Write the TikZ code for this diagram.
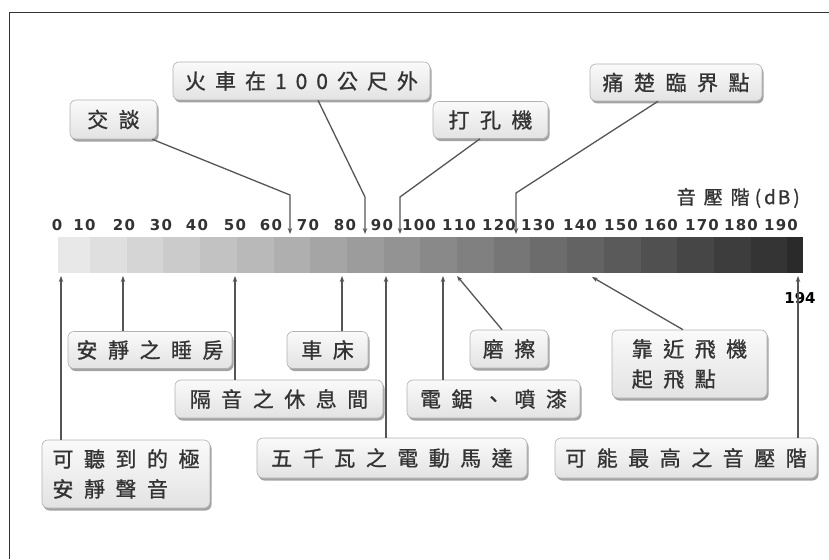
\documentclass[tikz,border=0pt]{standalone}
\usepackage{fontspec}
\newfontfamily\cjk[FakeBold=0.9]{Noto Sans CJK TC}
\newfontfamily\deja{DejaVu Sans}
\usetikzlibrary{arrows.meta,shadows}
\def\spk{10.5pt}
\def\spc#1{\spcA#1\relax}
\def\spcA#1{\ifx#1\relax\else#1\expandafter\spcB\fi}
\def\spcB#1{\ifx#1\relax\else\kern\spk#1\expandafter\spcB\fi}
\definecolor{lnc}{HTML}{555555}
\definecolor{txc}{HTML}{333333}
\tikzset{
  lbl/.style={draw=black!30, line width=0.6pt, rounded corners=6pt,
    top color=black!2, bottom color=black!11, inner sep=0pt,
    font=\cjk\fontsize{21}{30}\selectfont, text=txc,
    drop shadow={shadow xshift=1.5pt, shadow yshift=-2.5pt, fill=black!60, opacity=0.6}},
  tick/.style={inner sep=0pt, text=txc, font=\deja\bfseries\fontsize{15}{15}\selectfont\def\spk{1.2pt}},
  conn/.style={draw=lnc, line width=1.3pt},
  arr/.style={conn, -{Stealth[length=6pt,width=4.5pt]}},
  frame/.style={draw=black!80, line width=1.6pt}
}
\begin{document}
\begin{tikzpicture}[x=1pt,y=-1pt]
\useasboundingbox (0,0) rectangle (829,559);
% frame
\draw[frame] (9.5,559) -- (9.5,12.5) -- (829,12.5);
% bar
\foreach \i in {0,...,20}{
  \pgfmathsetmacro\xa{\i==0 ? 58 : 90+36.7*(\i-1)}
  \pgfmathsetmacro\xb{\i==20 ? 803 : 90+36.7*\i}
  \pgfmathsetmacro\gv{(232-9.5*\i)/255}
  \definecolor{segc}{gray}{\gv}
  \fill[segc] (\xa,237) rectangle (\xb,273);
}
% tick labels
\foreach \t/\p in {0/57,10/84.5,20/124,30/161,40/197,50/235,60/271,70/308,80/345,90/382,100/419,110/459,120/499,130/538,140/580,150/621,160/661,170/702,180/741,190/781}{
  \node[tick] (t\t) at (\p,225.5) {\expandafter\spc\expandafter{\t}};
}
\node[inner sep=0pt, text=black, font=\deja\bfseries\fontsize{15}{15}\selectfont] (t194) at (800,298) {194};
\node[inner sep=0pt, text=txc, font=\cjk\fontsize{19}{19}\selectfont, anchor=east] (unit) at (800,198) {\def\spk{8pt}\spc{音壓階}\kern5pt(\kern3pt d\kern2pt B\kern3pt)};
% boxes above
\node[lbl, minimum width=87pt, minimum height=39pt] (b1) at (113.5,119.5) {\spc{交談}};
\node[lbl, minimum width=257pt, minimum height=38pt] (b2) at (301.5,81) {\def\spk{9pt}\spc{火車在100公尺外}};
\node[lbl, minimum width=115pt, minimum height=37pt] (b3) at (490.5,120) {\spc{打孔機}};
\node[lbl, minimum width=172pt, minimum height=37pt] (b4) at (676,82.5) {\spc{痛楚臨界點}};
% boxes below
\node[lbl, minimum width=164pt, minimum height=37pt] (b5) at (150,350) {\spc{安靜之睡房}};
\node[lbl, minimum width=81pt, minimum height=37pt] (b6) at (327.5,350) {\spc{車床}};
\node[lbl, minimum width=208pt, minimum height=38pt] (b7) at (279,399) {\spc{隔音之休息間}};
\node[lbl, minimum width=168pt, minimum height=68pt, align=left] (b8) at (126,474) {\spc{可聽到的極}\\\spc{安靜聲音}};
\node[lbl, minimum width=270pt, minimum height=40pt] (b9) at (392,458) {\spc{五千瓦之電動馬達}};
\node[lbl, minimum width=173pt, minimum height=38pt] (b10) at (493.5,399) {\spc{電鋸、噴漆}};
\node[lbl, minimum width=78pt, minimum height=38pt] (b11) at (509,349) {\spc{磨擦}};
\node[lbl, minimum width=155pt, minimum height=68pt, align=left] (b12) at (689.5,364) {\spc{靠近飛機}\\\spc{起飛點}};
\node[lbl, minimum width=262pt, minimum height=40pt] (b13) at (686,458) {\spc{可能最高之音壓階}};
% coordinates on bar
\coordinate (k1) at (290,195); \coordinate (a1) at (290,234);
\coordinate (k2) at (365,197); \coordinate (a2) at (365,234);
\coordinate (k3) at (400,197); \coordinate (a3) at (400,234);
\coordinate (k4) at (516,193); \coordinate (a4) at (516,234);
\coordinate (a5) at (123,276);
\coordinate (a6) at (342,276);
\coordinate (a7) at (235,276);
\coordinate (a8) at (61,276);
\coordinate (a9) at (386,276);
\coordinate (a10) at (443,276);
\coordinate (a11) at (457,276);
\coordinate (a12) at (592,277);
\coordinate (a13) at (798,276);
% connectors above
\draw[arr] ([xshift=-5pt]b1.south east) -- (k1) -- (a1);
\draw[arr] ([xshift=16.5pt]b2.south) -- (k2) -- (a2);
\draw[arr] ([xshift=-10.5pt]b3.south) -- (k3) -- (a3);
\draw[arr] ([xshift=-18pt]b4.south) -- (k4) -- (a4);
% connectors below
\draw[arr] (b5.north -| a5) -- (a5);
\draw[arr] (b6.north -| a6) -- (a6);
\draw[arr] (b7.north -| a7) -- (a7);
\draw[arr] (b8.north -| a8) -- (a8);
\draw[arr] (b9.north -| a9) -- (a9);
\draw[arr] (b10.north -| a10) -- (a10);
\draw[arr] ([xshift=-7pt]b11.north) -- (a11);
\draw[arr] ([xshift=-6.5pt]b12.north) -- (a12);
\draw[arr] (b13.north -| a13) -- (a13);
\end{tikzpicture}
\end{document}
